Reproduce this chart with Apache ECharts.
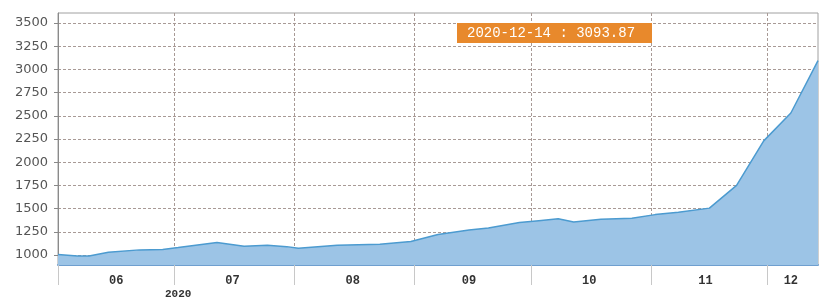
<!DOCTYPE html>
<html>
<head>
<meta charset="utf-8">
<script src="https://cdn.jsdelivr.net/npm/echarts@6/dist/echarts.min.js"></script>
<style>
  html, body { margin: 0; padding: 0; background: #fff; }
  #main { width: 819px; height: 302px; }
</style>
</head>
<body>
<div id="main"></div>
<script>
// values
var dates = [
  '2020-06-01', '2020-06-06', '2020-06-09', '2020-06-14', '2020-06-22', '2020-06-28',
  '2020-07-02', '2020-07-12', '2020-07-19', '2020-07-25', '2020-07-30',
  '2020-08-02', '2020-08-12', '2020-08-23', '2020-08-31',
  '2020-09-07', '2020-09-15', '2020-09-20', '2020-09-28',
  '2020-10-03', '2020-10-08', '2020-10-12', '2020-10-19', '2020-10-27',
  '2020-11-02', '2020-11-08', '2020-11-16', '2020-11-23', '2020-11-30',
  '2020-12-07', '2020-12-14'
];
var values = [
  1005, 990, 988, 1030, 1055, 1060,
  1080, 1135, 1095, 1105, 1090,
  1072, 1105, 1115, 1145,
  1220, 1270, 1290, 1350,
  1370, 1390, 1355, 1385, 1395,
  1435, 1460, 1505, 1750, 2230,
  2530, 3093.87
];
var yTicks = [1000, 1250, 1500, 1750, 2000, 2250, 2500, 2750, 3000, 3250, 3500];
var monthStarts = ['2020-06-01', '2020-07-01', '2020-08-01', '2020-09-01', '2020-10-01', '2020-11-01', '2020-12-01'];
var monthLabelAt = ['2020-06-16', '2020-07-16', '2020-08-16', '2020-09-15', '2020-10-16', '2020-11-15', '2020-12-07'];
var yearLabel = '2020';
var tipText = '2020-12-14 : 3093.87';

function ts(s) {
  var p = s.split('-');
  return +new Date(+p[0], +p[1] - 1, +p[2]);
}

var chart = echarts.init(document.getElementById('main'), null, { renderer: 'canvas' });

var option = {
  animation: false,
  grid: {
    left: 58,
    right: 1,
    top: 13,
    bottom: 37,
    show: true,
    borderColor: '#a0a0a0',
    borderWidth: 1,
    backgroundColor: 'transparent'
  },
  xAxis: {
    // dates as timestamps on a plain value axis
    type: 'value',
    min: ts('2020-06-01'),
    max: ts('2020-12-14'),
    axisLine: { show: true, lineStyle: { color: '#6f9fcf', width: 2 } },
    axisTick: {
      show: true,
      length: 20,
      customValues: monthStarts.map(ts),
      lineStyle: { color: '#c8c8c8', width: 1 }
    },
    axisLabel: {
      customValues: monthLabelAt.map(ts),
      formatter: function (v) {
        var m = new Date(v).getMonth() + 1;
        return (m < 10 ? '0' : '') + m;
      },
      color: '#333',
      fontFamily: 'Liberation Mono',
      fontWeight: 'bold',
      fontSize: 12,
      margin: 10
    },
    splitLine: {
      show: true,
      lineStyle: { color: '#a89a96', type: [3, 2], width: 1 }
    }
  },
  yAxis: {
    type: 'value',
    min: 892,
    max: 3608,
    axisLine: { show: true, lineStyle: { color: '#8a8a8a', width: 1 } },
    axisTick: {
      show: true,
      length: 4,
      customValues: yTicks,
      lineStyle: { color: '#888' }
    },
    axisLabel: {
      customValues: yTicks,
      formatter: function (v) { return String(v); },
      color: '#555',
      fontFamily: 'DejaVu Sans',
      fontSize: 13,
      margin: 10
    },
    splitLine: {
      show: true,
      lineStyle: { color: '#a89a96', type: [3, 2], width: 1 }
    }
  },
  series: [
    {
      type: 'line',
      data: dates.map(function (d, i) { return [ts(d), values[i]]; }),
      symbol: 'none',
      lineStyle: { color: '#4c9bd0', width: 1.5 },
      areaStyle: { color: '#9cc4e6', opacity: 1 },
      z: 3
    }
  ],
  graphic: [
    {
      type: 'text',
      left: 165,
      top: 289,
      style: {
        text: yearLabel,
        fill: '#333',
        font: 'bold 11px "Liberation Mono"'
      }
    },
    {
      type: 'text',
      left: 457,
      top: 23,
      z: 10,
      style: {
        text: tipText,
        fill: '#fff',
        font: '14px "Liberation Mono"',
        backgroundColor: '#e8892c',
        padding: [2, 10, 2, 10],
        width: 175,
        lineHeight: 16
      }
    }
  ]
};

chart.setOption(option);
</script>
</body>
</html>
